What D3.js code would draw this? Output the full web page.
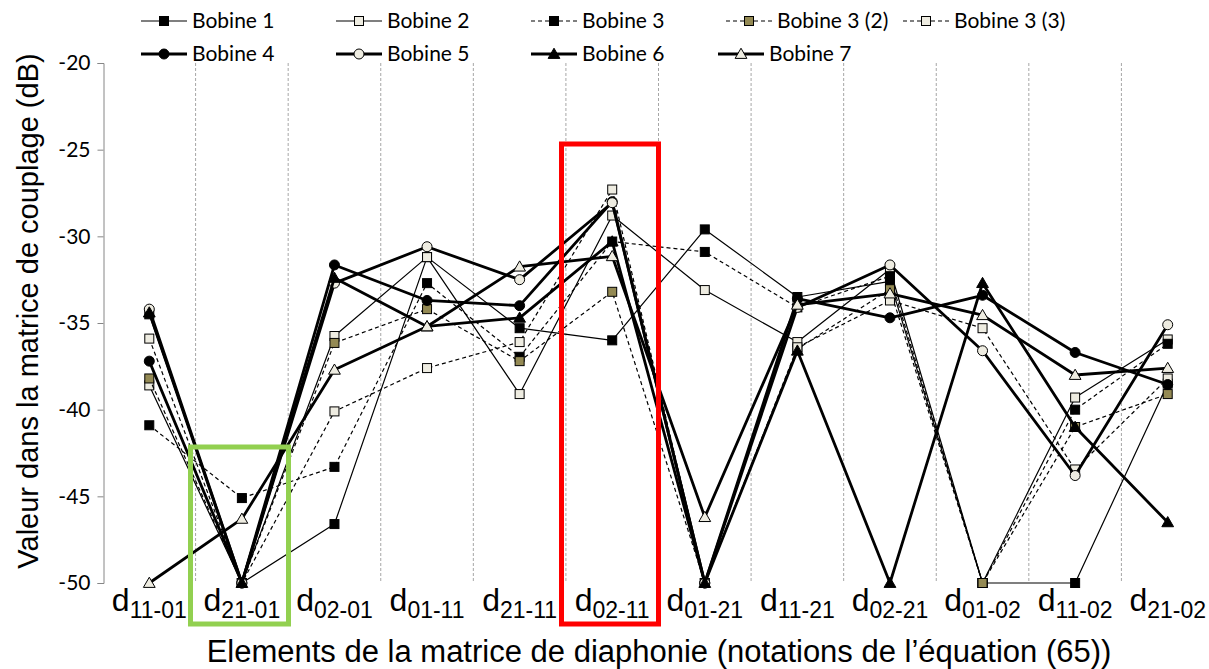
<!DOCTYPE html>
<html>
<head>
<meta charset="utf-8">
<script src="https://cdn.jsdelivr.net/npm/d3@7"></script>
<style>
  html, body { margin: 0; padding: 0; background: #fff; }
  svg { display: block; }
</style>
</head>
<body>
<svg id="chart" width="1209" height="669"></svg>
<script>
// ---------- DATA ----------
const categories = ["d11-01","d21-01","d02-01","d01-11","d21-11","d02-11","d01-21","d11-21","d02-21","d01-02","d11-02","d21-02"];
const yTicks = [-20,-25,-30,-35,-40,-45,-50];
const seriesNames = ["Bobine 1","Bobine 2","Bobine 3","Bobine 3 (2)","Bobine 3 (3)","Bobine 4","Bobine 5","Bobine 6","Bobine 7"];
const bobine1  = [-34.5,-50,-46.6,-31.2,-35.3,-36.0,-29.6,-33.5,-32.6,-50,-50,-38.5];
const bobine2  = [-38.6,-50,-35.75,-31.2,-39.1,-28.8,-33.1,-36.1,-31.9,-50,-39.3,-35.95];
const bobine3  = [-40.9,-45.1,-43.3,-32.7,-36.95,-30.3,-30.9,-34.1,-32.3,-50,-40.0,-36.2];
const bobine3b = [-38.2,-50,-36.15,-34.2,-37.2,-33.2,-50,-36.5,-33.05,-50,-41.0,-39.1];
const bobine3c = [-35.9,-50,-40.1,-37.6,-36.1,-27.3,-50,-36.4,-33.7,-35.3,-43.45,-38.2];
const bobine4  = [-37.2,-50,-31.65,-33.7,-34.0,-28.0,-50,-33.6,-34.7,-33.4,-36.7,-38.55];
const bobine5  = [-34.2,-50,-32.7,-30.6,-32.5,-28.06,-50,-34.1,-31.65,-36.6,-43.8,-35.1];
const bobine6  = [-34.4,-50,-32.4,-35.2,-34.7,-30.3,-50,-36.6,-50,-32.7,-41.0,-46.5];
const bobine7  = [-50,-46.3,-37.7,-35.2,-31.75,-31.15,-46.2,-33.95,-33.3,-34.55,-38.0,-37.6];
const seriesValues = [bobine1,bobine2,bobine3,bobine3b,bobine3c,bobine4,bobine5,bobine6,bobine7];

// ---------- STYLES ----------
const LIGHT = "#eeece1", OLIVE = "#948a54";
const styles = [
  {w:1.2, dash:null,  shape:"square",   fill:"#000"},
  {w:1.2, dash:null,  shape:"square",   fill:LIGHT},
  {w:1.2, dash:"4,3", shape:"square",   fill:"#000"},
  {w:1.2, dash:"4,3", shape:"square",   fill:OLIVE},
  {w:1.2, dash:"4,3", shape:"square",   fill:LIGHT},
  {w:2.8, dash:null,  shape:"circle",   fill:"#000"},
  {w:2.8, dash:null,  shape:"circle",   fill:LIGHT},
  {w:2.8, dash:null,  shape:"triangle", fill:"#000"},
  {w:2.8, dash:null,  shape:"triangle", fill:LIGHT}
];

const svg = d3.select("#chart");
const x = d3.scaleBand().domain(categories).range([103, 1214]).padding(0);
const y = d3.scaleLinear().domain([-50, -20]).range([583, 63]);
const cx = c => x(c) + x.bandwidth() / 2;

// gridlines
svg.append("g").selectAll("line")
  .data(categories.slice(1))
  .join("line")
  .attr("x1", d => x(d)).attr("x2", d => x(d))
  .attr("y1", y(-20)).attr("y2", y(-50))
  .attr("stroke", "#a6a6a6").attr("stroke-width", 1)
  .attr("stroke-dasharray", "3,2");

// y axis
const yAxis = svg.append("g")
  .attr("transform", "translate(103.5,0)")
  .call(d3.axisLeft(y).tickValues(yTicks).tickSize(6).tickPadding(7).tickFormat(d => String(d)));
yAxis.select(".domain").attr("stroke", "#868686");
yAxis.selectAll(".tick line").attr("stroke", "#868686");
yAxis.selectAll(".tick text")
  .attr("font-family", "Lato, 'Liberation Sans', sans-serif")
  .attr("font-size", 21).attr("fill", "#000");

// x labels
const xl = svg.append("g").selectAll("text")
  .data(categories).join("text")
  .attr("x", d => cx(d)).attr("y", 611)
  .attr("text-anchor", "middle")
  .attr("font-family", "'Liberation Sans', Arial, sans-serif")
  .attr("fill", "#000");
xl.append("tspan").attr("font-size", 32).text("d");
xl.append("tspan").attr("font-size", 23).attr("dy", 7).text(d => d.slice(1));

// axis titles
svg.append("text")
  .attr("x", 659).attr("y", 662)
  .attr("text-anchor", "middle")
  .attr("font-family", "'Liberation Sans', Arial, sans-serif")
  .attr("font-size", 31)
  .text("Elements de la matrice de diaphonie (notations de l\u2019\u00e9quation (65))");
svg.append("text")
  .attr("transform", "translate(38,311) rotate(-90)")
  .attr("text-anchor", "middle")
  .attr("font-family", "'Liberation Sans', Arial, sans-serif")
  .attr("font-size", 29)
  .text("Valeur dans la matrice de couplage (dB)");

// marker drawing
function drawMarker(g, shape, fill, px, py) {
  if (shape === "square") {
    g.append("rect").attr("x", px - 4.5).attr("y", py - 4.5).attr("width", 9).attr("height", 9)
      .attr("fill", fill).attr("stroke", "#000").attr("stroke-width", 1);
  } else if (shape === "circle") {
    g.append("circle").attr("cx", px).attr("cy", py).attr("r", 5)
      .attr("fill", fill).attr("stroke", "#000").attr("stroke-width", 1);
  } else {
    g.append("path").attr("d", d3.symbol(d3.symbolTriangle, 60)()).attr("transform", `translate(${px},${py + 1})`)
      .attr("fill", fill).attr("stroke", "#000").attr("stroke-width", 1);
  }
}

const line = d3.line().x((d, i) => cx(categories[i])).y(d => y(d));
const plot = svg.append("g");
seriesValues.forEach((vals, si) => {
  const s = styles[si];
  const g = plot.append("g");
  g.append("path").datum(vals).attr("d", line)
    .attr("fill", "none").attr("stroke", "#000").attr("stroke-width", s.w)
    .attr("stroke-linejoin", "round")
    .attr("stroke-dasharray", s.dash);
  vals.forEach((v, i) => drawMarker(g, s.shape, s.fill, cx(categories[i]), y(v)));
});

// highlight rectangles
svg.append("rect").attr("x", 190.5).attr("y", 447).attr("width", 98).attr("height", 177)
  .attr("fill", "none").attr("stroke", "#92d050").attr("stroke-width", 5);
svg.append("rect").attr("x", 561.5).attr("y", 144).attr("width", 97).attr("height", 480)
  .attr("fill", "none").attr("stroke", "#ff0000").attr("stroke-width", 5);

// legend
const legendPos = [
  {x:141, y:21}, {x:336, y:21}, {x:531, y:21}, {x:726, y:21}, {x:903, y:21},
  {x:141, y:54}, {x:336, y:54}, {x:531, y:54}, {x:718, y:54}
];
const legend = svg.append("g");
seriesNames.forEach((name, si) => {
  const s = styles[si], p = legendPos[si];
  const g = legend.append("g");
  const len = 46;
  g.append("line").attr("x1", p.x).attr("x2", p.x + len).attr("y1", p.y).attr("y2", p.y)
    .attr("stroke", "#000").attr("stroke-width", s.w).attr("stroke-dasharray", s.dash);
  drawMarker(g, s.shape, s.fill, p.x + len / 2, p.y);
  g.append("text").attr("x", p.x + len + 5).attr("y", p.y + 7)
    .attr("font-family", "Lato, 'Liberation Sans', sans-serif").attr("font-size", 21)
    .text(name);
});
</script>
</body>
</html>
